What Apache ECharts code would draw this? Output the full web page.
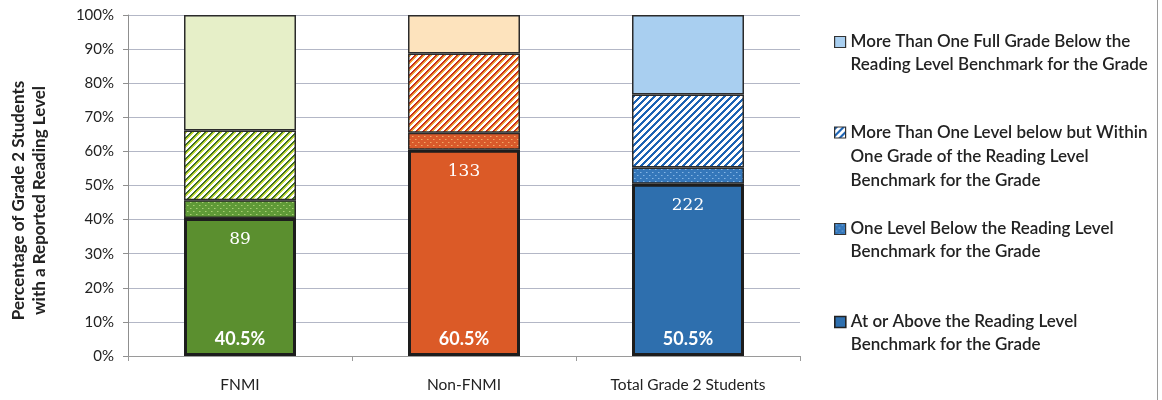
<!DOCTYPE html>
<html>
<head>
<meta charset="utf-8">
<script src="https://cdn.jsdelivr.net/npm/echarts/dist/echarts.min.js"></script>
<style>
  html, body { margin: 0; padding: 0; background: #fff; }
  #chart { width: 1162px; height: 400px; }
</style>
</head>
<body>
<div id="chart"></div>
<script>
// Grade 2 reading levels, share of students per group (%)
const categories = ['FNMI', 'Non-FNMI', 'Total Grade 2 Students'];
const atOrAbove = [40.5, 60.5, 50.5];
const oneLevelBelow = [5.2, 5.0, 4.8];
const withinOneGrade = [20.4, 23.2, 21.4];
const fullGradeBelow = [33.9, 11.3, 23.3];
const studentCounts = [89, 133, 222];
const yTicks = [0, 10, 20, 30, 40, 50, 60, 70, 80, 90, 100];

const seriesNames = [
  'At or Above the Reading Level\nBenchmark for the Grade',
  'One Level Below the Reading Level\nBenchmark for the Grade',
  'More Than One Level below but Within\nOne Grade of the Reading Level\nBenchmark for the Grade',
  'More Than One Full Grade Below the\nReading Level Benchmark for the Grade'
];

// colour families: green (FNMI), orange (Non-FNMI), blue (Total)
const solidColors = ['#5b8f2f', '#db5a27', '#2e6fae'];
const lightColors = ['#e6efc8', '#fde3bd', '#a9cff0'];
const dotBase = ['#5f9a37', '#d95a2b', '#3577ba'];
const dotSpot = ['#a9d074', '#f3a866', '#86b6e4'];
const hatchDark = ['#3f6e27', '#c8301c', '#1c63b4'];
const hatchMid = ['#c5dc3a', '#f2a43a', '#1c63b4'];

function hexToRgb(h) {
  const n = parseInt(h.slice(1), 16);
  return [(n >> 16) & 255, (n >> 8) & 255, n & 255];
}

// diagonal "/" stripes: dark line, accent line, white gap
function hatchPattern(dark, mid) {
  const size = 7;
  const cv = document.createElement('canvas');
  cv.width = cv.height = size;
  const ctx = cv.getContext('2d');
  const img = ctx.createImageData(size, size);
  const d = hexToRgb(dark), m = hexToRgb(mid), w = [255, 255, 255];
  for (let y = 0; y < size; y++) {
    for (let x = 0; x < size; x++) {
      const k = (x + y) % size;
      let c = w;
      if (k < 2) c = d;
      else if (k < 4) c = (dark === mid && k === 3) ? w : m;
      const i = (y * size + x) * 4;
      img.data[i] = c[0]; img.data[i + 1] = c[1]; img.data[i + 2] = c[2]; img.data[i + 3] = 255;
    }
  }
  ctx.putImageData(img, 0, 0);
  return { image: cv, repeat: 'repeat' };
}

// small light dots on a solid base
function dotPattern(base, spot) {
  const size = 6;
  const cv = document.createElement('canvas');
  cv.width = cv.height = size;
  const ctx = cv.getContext('2d');
  ctx.fillStyle = base;
  ctx.fillRect(0, 0, size, size);
  ctx.fillStyle = spot;
  ctx.fillRect(1, 1, 1, 1);
  ctx.fillRect(4, 4, 1, 1);
  ctx.globalAlpha = 0.5;
  ctx.fillRect(2, 1, 1, 1);
  ctx.fillRect(5, 4, 1, 1);
  ctx.globalAlpha = 1;
  return { image: cv, repeat: 'repeat' };
}

const hatchFills = hatchDark.map((c, i) => hatchPattern(c, hatchMid[i]));
const dotFills = dotBase.map((c, i) => dotPattern(c, dotSpot[i]));

const thinBorder = { borderColor: '#2b2b2b', borderWidth: 1.5 };

function withColors(values, fills) {
  return values.map((v, i) => ({ value: v, itemStyle: { color: fills[i] } }));
}

const font = 'Lato, "Open Sans", sans-serif';

// one legend block per entry; leading blank lines keep the swatch level with the first text line
function legendBlock(name, lines, top, lineHeight, itemStyle) {
  return {
    orient: 'vertical',
    left: 834,
    top: top,
    padding: 0,
    itemWidth: 11,
    itemHeight: 11,
    itemGap: 0,
    icon: 'rect',
    selectedMode: false,
    data: [{ name: name, itemStyle: itemStyle }],
    formatter: n => '\n'.repeat(lines - 1) + n,
    textStyle: {
      fontFamily: font,
      fontSize: 17,
      fontWeight: 600,
      color: '#222',
      lineHeight: lineHeight
    }
  };
}

const chart = echarts.init(document.getElementById('chart'), null, { renderer: 'canvas' });

chart.setOption({
  animation: false,
  backgroundColor: '#ffffff',
  grid: { left: 125, right: 362, top: 15, bottom: 44, containLabel: false },
  legend: [
    legendBlock(seriesNames[3], 2, 7.5, 23, { color: lightColors[2], borderColor: '#333', borderWidth: 1.2 }),
    legendBlock(seriesNames[2], 3, 72.5, 24, { color: hatchFills[2], borderColor: '#333', borderWidth: 1.2 }),
    legendBlock(seriesNames[1], 2, 194.5, 23, { color: dotFills[2], borderColor: '#333', borderWidth: 1.2 }),
    legendBlock(seriesNames[0], 2, 287.5, 23, { color: solidColors[2], borderColor: '#222', borderWidth: 1.6 })
  ],
  xAxis: {
    type: 'category',
    data: categories,
    axisLine: { lineStyle: { color: '#9a9a9a', width: 1 } },
    axisTick: { show: true, length: 5, lineStyle: { color: '#9a9a9a' } },
    axisLabel: { fontFamily: font, fontSize: 15.5, color: '#222', margin: 21 }
  },
  yAxis: {
    type: 'value',
    min: yTicks[0],
    max: yTicks[yTicks.length - 1],
    interval: yTicks[1] - yTicks[0],
    name: 'Percentage of Grade 2 Students\nwith a Reported Reading Level',
    nameLocation: 'middle',
    nameRotate: 90,
    nameGap: 78,
    nameTextStyle: {
      fontFamily: font, fontSize: 17, fontWeight: 'bold', color: '#222', lineHeight: 21,
      padding: [0, 30, 0, 0]
    },
    axisLine: { show: true, lineStyle: { color: '#8f8f8f', width: 1 } },
    axisTick: { show: true, length: 5, lineStyle: { color: '#8f8f8f' } },
    axisLabel: { fontFamily: font, fontSize: 15, color: '#222', margin: 14, formatter: '{value}%' },
    splitLine: { lineStyle: { color: '#b3b7c6', width: 1 } }
  },
  graphic: [
    { type: 'line', shape: { x1: 1157.5, y1: 0, x2: 1157.5, y2: 400 }, style: { stroke: '#9a9a9a', lineWidth: 1 } }
  ],
  series: [
    {
      name: seriesNames[0], type: 'bar', stack: 'share', barWidth: '50%', z: 3,
      itemStyle: { color: solidColors[2], borderColor: '#1d1d1d', borderWidth: 3 },
      data: withColors(atOrAbove, solidColors),
      label: {
        show: true, position: 'insideTop', distance: 13,
        formatter: p => String(studentCounts[p.dataIndex]),
        fontFamily: '"DejaVu Serif", "Liberation Serif", serif', fontSize: 17, color: '#ffffff'
      }
    },
    {
      name: seriesNames[1], type: 'bar', stack: 'share', barWidth: '50%', z: 2,
      itemStyle: Object.assign({ color: dotFills[2] }, thinBorder),
      data: withColors(oneLevelBelow, dotFills)
    },
    {
      name: seriesNames[2], type: 'bar', stack: 'share', barWidth: '50%', z: 2,
      itemStyle: Object.assign({ color: hatchFills[2] }, thinBorder),
      data: withColors(withinOneGrade, hatchFills)
    },
    {
      name: seriesNames[3], type: 'bar', stack: 'share', barWidth: '50%', z: 2,
      itemStyle: Object.assign({ color: lightColors[2] }, thinBorder),
      data: withColors(fullGradeBelow, lightColors)
    },
    {
      // percentage labels at the foot of each bar
      name: 'share-label', type: 'bar', barWidth: '50%', barGap: '-100%', z: 4, silent: true,
      itemStyle: { color: 'rgba(0,0,0,0)', borderWidth: 0 },
      data: atOrAbove,
      label: {
        show: true, position: 'insideBottom', distance: 8,
        formatter: p => p.value + '%',
        fontFamily: font, fontSize: 18, fontWeight: 'bold', color: '#ffffff'
      }
    }
  ]
});
</script>
</body>
</html>
